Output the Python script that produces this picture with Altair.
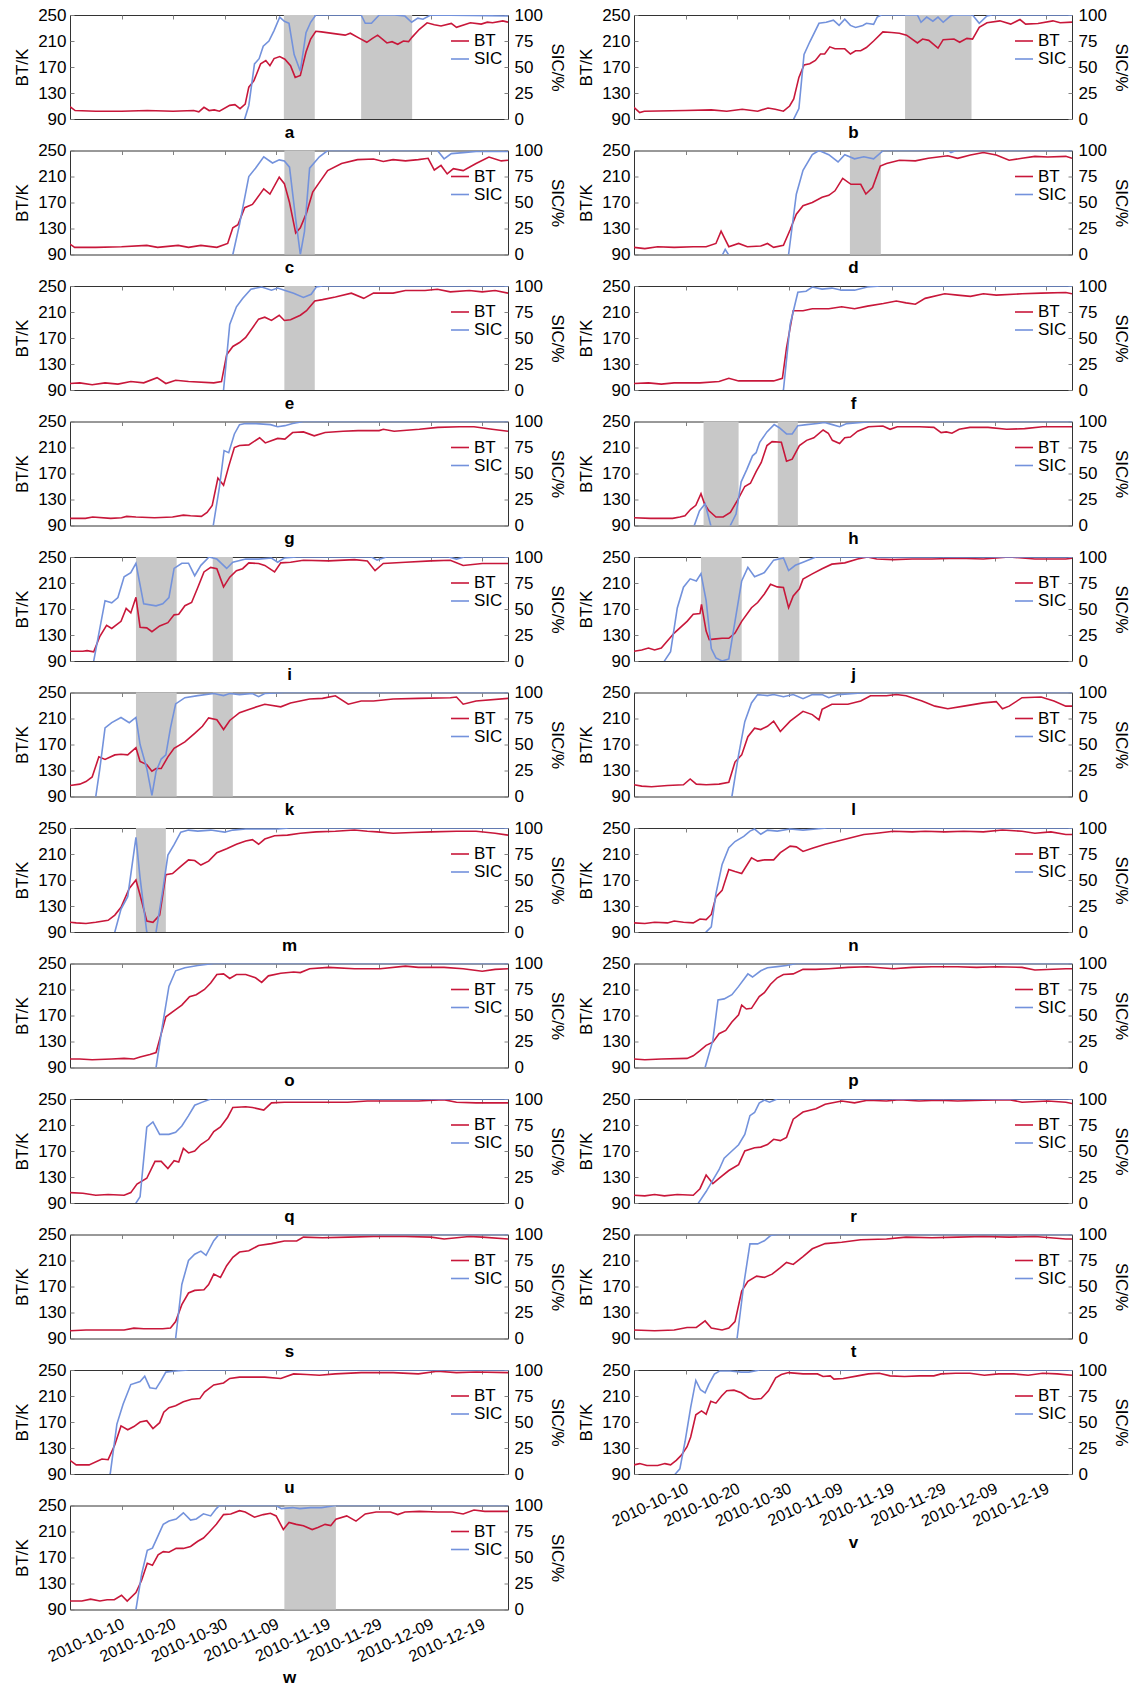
import altair as alt
import pandas as pd

START = pd.Timestamp("2010-09-30")
RED = "#c8173a"
BLUE = "#7392dc"
GREY = "#c8c8c8"
TICK_GREY = "#808080"
FONT = "Liberation Sans"

LEFT_PANELS = ["a", "c", "e", "g", "i", "k", "m", "o", "q", "s", "u", "w"]
RIGHT_PANELS = ["b", "d", "f", "h", "j", "l", "n", "p", "r", "t", "v"]
BOTTOM_PANELS = ["w", "v"]

TICK_DATES = [(10, 10), (10, 20), (10, 30), (11, 9), (11, 19), (11, 29), (12, 9), (12, 19)]
BT_TICKS = [90, 130, 170, 210, 250]
SIC_TICKS = [0, 25, 50, 75, 100]

# day offset from 2010-09-30, value
BT = {
    "a": [[0,109],[1,103],[5,102],[10,102],[15,103],[20,102],[24,103],[25,101],[26,108],[27,103],[28,104],[29,102],[31,111],[32,112],[33,106],[34,113],[34.7,139],[35.7,149],[37,175],[38,180],[38.8,172],[39.6,183],[40.7,186],[41.7,182],[42.8,172],[43.7,154],[44.7,157],[45.8,193],[46.7,213],[47.7,225],[48.8,224],[51.6,221],[53.4,219],[54.4,222],[56.2,214],[57.6,208],[58.7,214],[59.7,219],[61.5,207],[62.5,209],[63.6,205],[64.7,210],[65.7,209],[66.4,216],[67.8,228],[69.3,238],[70.7,235],[72,233],[74,237],[75,231],[77.7,238],[79.8,236],[81,239],[82,238],[84,241],[85,239]],
    "b": [[0,108],[1.1,100],[2,102],[10,103],[15,104],[18,102],[21,105],[24,102],[26,107],[27.4,105],[29,102],[30.2,110],[31,121],[32,154],[33,173],[34.1,175],[35.2,180],[36.2,190],[37,190],[38,201],[39,198],[40.9,198],[42,190],[43,195],[44,195],[45.1,200],[46.5,210],[48.3,224],[50,223],[51.5,222],[52.9,219],[55,207],[56,213],[57.2,211],[59,199],[60,212],[62.1,213],[63.2,208],[64.6,214],[65.7,213],[67,231],[68.5,238],[71,241],[73.1,236],[74.9,243],[76,236],[78.4,237],[81.3,241],[82.7,238],[85,239]],
    "c": [[0,106],[0.9,101],[5,101],[10,102],[14.9,104],[17,101],[21,104],[23,101],[25.4,104],[28.5,101],[30.6,107],[31.6,131],[32.6,136],[33.9,162],[35.4,167],[37.6,191],[38.8,183],[40.6,209],[41.6,199],[42.6,170],[43.8,123],[44.7,131],[45.9,154],[47.1,186],[48.4,201],[50,219],[52.7,230],[55.8,236],[58.9,237],[60.8,233],[62.7,236],[65.1,234],[67.6,236],[69.5,238],[70.7,220],[72,227],[73.2,214],[74.4,222],[76.3,219],[78.8,230],[81.3,240],[83.7,234],[85,235]],
    "d": [[0,101],[2.1,99],[4.6,102],[7.8,101],[11.5,102],[14,102],[15.9,107],[16.9,126],[18.4,102],[20.3,107],[22,102],[24.6,103],[25.9,107],[27.1,101],[29,104],[30.3,128],[31.5,152],[32.8,165],[34.6,170],[36.5,178],[37.8,181],[39,188],[40.5,207],[42.1,198],[44,198],[45,183],[46.3,193],[47.8,226],[49,230],[51.5,235],[54.6,234],[57.1,238],[60.9,242],[62.8,238],[65.3,243],[67.8,247],[70.3,243],[72.8,235],[75.3,238],[77.8,241],[80.3,240],[83.8,241],[85,238]],
    "e": [[0,100],[1.9,101],[4.3,98],[6.8,101],[9.3,99],[11.8,103],[14.3,101],[16.9,109],[18.6,100],[20.5,105],[23,103],[27.9,101],[29.4,103],[30.4,144],[31.6,157],[32.9,163],[34.1,171],[36.6,199],[37.8,202],[39.1,197],[40.6,205],[41.6,197],[42.8,198],[44.7,205],[45.9,212],[47.5,227],[49,229],[51.5,233],[54.6,239],[57,231],[58.9,239],[62.7,239],[65.1,243],[68.9,243],[71.3,245],[73.8,241],[77.5,243],[80,241],[82.5,243],[85,239]],
    "f": [[0,100],[2.8,101],[5.3,99],[7.8,101],[12.8,101],[16.5,103],[18.4,108],[20.3,104],[24,104],[27.1,104],[28.8,108],[29.6,155],[30.9,212],[32.8,212],[34.6,215],[37.8,215],[40.3,218],[42.8,215],[45.3,219],[48.4,223],[50.9,227],[52.8,224],[54.6,222],[56.5,231],[60.3,238],[62.8,236],[65.3,234],[67.8,238],[70.3,236],[75.3,238],[79,239],[83.8,240],[85,238]],
    "g": [[0,101],[3,101],[4.4,103],[7.9,101],[10,102],[11,104],[12.8,103],[16.4,102],[19.9,103],[22,106],[23.4,105],[25.5,104],[26.6,110],[27.6,121],[28.7,163],[29.8,152],[30.8,181],[31.9,210],[32.9,213],[34.7,214],[36.8,225],[37.9,217],[40.3,224],[41.7,223],[43.2,233],[45.3,234],[47.4,228],[49.5,233],[53,235],[55.9,236],[60,236],[60.8,238],[62.9,235],[67.8,238],[71.4,241],[75.6,242],[78.4,242],[81.9,238],[85,235]],
    "h": [[0,102],[3.2,101],[7.5,101],[8.9,103],[9.9,105],[11,115],[12,121],[13,139],[13.7,123],[14.5,113],[15.9,103],[17.3,103],[18.7,110],[20.1,129],[21.5,150],[22.6,155],[23.7,173],[24.7,187],[25.8,213],[26.8,219],[28.6,218],[29.6,189],[30.7,192],[32.1,213],[33.5,221],[34.9,225],[36.7,237],[37.7,232],[38.5,221],[39.9,216],[40.9,225],[42,226],[43.4,235],[45.5,242],[48.3,243],[49.7,238],[51.1,242],[55.4,242],[58.2,241],[59.6,233],[60.6,234],[61.7,232],[63.1,238],[65.2,241],[68.7,241],[72.3,238],[75.8,239],[79.3,242],[85,242]],
    "i": [[0,105],[2.5,105],[3.3,106],[4.6,104],[5.8,128],[7.1,145],[8.1,140],[9.9,151],[10.9,171],[11.8,164],[12.8,188],[13.6,142],[14.9,141],[15.9,135],[17.4,144],[19,149],[20.2,161],[21.1,162],[22.3,175],[23.6,180],[24.8,203],[26,227],[27.3,234],[28.5,232],[29.8,204],[31,219],[32.3,229],[33.5,232],[34.7,241],[36.6,240],[37.8,237],[39.7,227],[40.9,241],[42.8,242],[45.3,245],[50.2,244],[55.2,246],[57.7,244],[59.2,229],[60.8,240],[65.1,242],[70.1,244],[73.8,245],[76.3,237],[80,240],[85,240]],
    "j": [[0,105],[1.5,107],[2.8,110],[4,107],[5.3,110],[7.8,133],[10.3,151],[11.5,162],[12.8,163],[13.1,177],[14,136],[14.6,123],[15.9,124],[17.1,125],[18.4,125],[19.6,133],[20.9,151],[22.8,172],[24,180],[25.3,193],[26.5,208],[27.8,204],[29,203],[30,172],[30.9,190],[32.1,201],[32.8,216],[34.6,224],[36.5,232],[38.4,239],[40.9,241],[43.4,247],[45.3,250],[47.1,247],[50.3,246],[54,247],[57.8,247],[62.8,248],[67.8,247],[72.8,250],[77.8,247],[83.8,247],[85,248]],
    "k": [[0,107],[1.9,109],[3.1,113],[4.3,120],[5.6,151],[6.8,147],[8.7,154],[9.9,155],[11.2,154],[12.8,165],[13.6,144],[14.9,139],[15.9,129],[16.7,133],[17.7,133],[19,151],[20.2,164],[22.3,174],[24.2,187],[25.7,198],[26.9,211],[28.5,208],[29.8,193],[31,207],[32.9,219],[34.7,224],[37.8,232],[40.9,228],[42.8,234],[46.5,240],[49,241],[51.5,245],[54,232],[56.5,237],[58.9,237],[62.7,240],[67.6,241],[73.8,242],[75,243],[76.3,232],[78.8,237],[85,241]],
    "l": [[0,108],[1.5,106],[3.4,105],[6.5,107],[9.6,108],[10.9,117],[12.1,109],[14,108],[16.5,109],[18.4,112],[19.6,143],[20.9,154],[22.1,182],[23.4,195],[24.6,193],[25.9,198],[27.1,206],[28.4,190],[30.3,206],[32.8,221],[34.6,216],[35.9,208],[36.5,224],[38.4,232],[41.5,232],[44,237],[45.9,245],[49,245],[50.9,247],[52.8,245],[55.9,237],[58.4,229],[60.9,225],[64,229],[67.8,234],[70.3,236],[71.5,225],[72.8,229],[75.3,242],[79,243],[81.5,237],[83.8,229],[85,229]],
    "m": [[0,105],[1.2,104],[3.1,103],[5,105],[7.4,108],[8.7,116],[9.9,128],[11.5,157],[12.8,170],[13.6,147],[14.9,107],[16.1,105],[17.4,116],[18.6,178],[19.9,180],[21.5,191],[23,201],[24.2,200],[25.4,193],[26.9,199],[28.5,212],[30.4,218],[32.3,225],[34.1,230],[35.4,232],[36.6,225],[37.8,233],[39.7,238],[42.2,239],[44.7,242],[47.8,244],[51.5,245],[55.2,247],[57.7,245],[59.6,244],[62.7,242],[66.4,243],[70.1,244],[75,245],[78.8,245],[82.5,242],[85,239]],
    "n": [[0,104],[2.1,103],[4,105],[6.5,104],[7.8,107],[9.6,105],[11.5,104],[12.8,110],[14,109],[15,117],[15.9,144],[17.1,154],[18.4,186],[19.6,183],[20.9,180],[22.8,204],[24,199],[25.3,201],[27.1,201],[28.4,212],[30.3,222],[31.5,221],[32.8,214],[34.6,219],[37.1,225],[39.6,230],[42.1,235],[44.6,240],[47.1,242],[50.3,245],[54,244],[56.5,245],[60.3,244],[64,245],[67.8,244],[71.5,247],[75.3,245],[77.8,242],[80.9,244],[83.8,240],[85,240]],
    "o": [[0,103],[1.9,103],[4.3,102],[8.1,103],[10.5,104],[12.4,103],[13.6,106],[15.5,110],[16.7,113],[17.7,142],[18.6,168],[20.5,179],[21.7,186],[23.2,199],[24.5,202],[26.1,210],[27.3,220],[28.5,233],[29.8,234],[31,227],[32.3,233],[34.1,233],[36,228],[37.2,221],[38.5,231],[40.9,235],[43.4,237],[44.7,236],[46.5,242],[50.2,244],[55.2,242],[60.2,242],[65.1,246],[67.6,244],[72.6,244],[76.3,242],[80,238],[82.5,241],[85,242]],
    "p": [[0,103],[2.1,102],[5.3,103],[10.3,104],[11.5,108],[12.8,116],[14,124],[15.3,129],[16.5,142],[17.8,147],[19,160],[20.3,171],[20.9,186],[21.8,180],[22.8,181],[24.3,199],[25.3,205],[26.5,218],[27.8,228],[29,233],[30.9,234],[32.8,241],[35.3,241],[37.8,242],[41.5,244],[45.3,245],[50.3,242],[54,244],[57.8,245],[62.8,245],[66.5,244],[70.3,245],[75.3,244],[77.8,240],[83.8,242],[85,242]],
    "q": [[0,106],[2.5,105],[5,102],[7.4,103],[10.5,102],[11.8,106],[13,119],[14.9,128],[16.5,154],[17.7,154],[19,143],[20.2,155],[21.1,153],[22,174],[23,167],[24.2,170],[25.4,180],[26.9,188],[27.9,200],[29.2,207],[30.6,222],[31.6,237],[34.1,238],[35.4,237],[37.6,233],[39.1,244],[41.6,245],[45.3,245],[50.2,245],[53.9,245],[57.7,247],[62.7,247],[67.6,247],[72.5,249],[75,245],[78.8,244],[85,244]],
    "r": [[0,102],[2.1,101],[4,103],[5.9,101],[8.4,103],[11.5,102],[12.8,112],[14,133],[15.3,120],[16.5,128],[18.4,140],[20.3,149],[21.5,170],[23.4,175],[24.6,176],[25.9,180],[27.1,188],[28.4,186],[29.6,191],[30.9,219],[32.8,230],[35.3,235],[37.1,242],[40.3,247],[42.8,244],[45.3,248],[49,247],[51.5,249],[55.3,247],[59,248],[62.8,247],[67.8,248],[72.8,249],[75.3,245],[80.3,247],[83.8,245],[85,243]],
    "s": [[0,102],[3.1,103],[8.1,103],[10.5,103],[12.4,106],[14.3,105],[18,105],[19.5,106],[20.5,116],[21.7,142],[23,160],[24.2,164],[26,165],[26.9,173],[27.9,189],[29.2,184],[30.4,202],[31.6,215],[32.9,223],[34.7,225],[36.6,233],[39.1,236],[41.6,240],[44,240],[45.3,246],[49,245],[54,246],[58.9,247],[65.1,247],[70.1,246],[72.6,243],[77.5,247],[80,246],[85,243]],
    "t": [[0,103],[4,102],[7.8,103],[10.3,107],[12.1,107],[13.8,117],[15,106],[17.1,103],[18.4,106],[19.6,116],[20.9,163],[22.1,178],[23.8,186],[25.3,184],[26.8,189],[28.4,199],[29.6,207],[30.9,204],[32.8,216],[34.6,228],[37.1,236],[40.3,238],[44,242],[49,243],[52.8,246],[57.8,245],[62.8,246],[67.8,247],[72.8,246],[77.8,247],[83.8,243],[85,243]],
    "u": [[0,111],[1.2,104],[3.7,104],[6.2,113],[7.4,112],[8.7,135],[9.9,164],[11.2,158],[12.4,163],[13.6,170],[14.9,172],[16.1,160],[17.4,169],[18.2,185],[19.2,192],[20.5,195],[22,201],[23.6,205],[25.2,206],[26.1,216],[27.9,227],[29.8,230],[31,237],[32.9,239],[35.4,239],[37.8,239],[40.9,237],[43.4,244],[45.9,243],[48.4,242],[51.5,244],[56.5,246],[62.7,246],[67.6,244],[71.3,248],[75,246],[78.8,247],[85,246]],
    "v": [[0,104],[1.1,106],[2.5,103],[4.6,103],[6,106],[7.1,104],[8.2,111],[9.2,119],[10.3,132],[11,147],[12,181],[13.1,187],[14,182],[14.9,202],[15.9,199],[17,210],[18,218],[19.4,219],[20.8,215],[22.3,207],[23.3,205],[24.7,206],[26.1,218],[27.5,238],[28.6,243],[30,246],[32.8,244],[35.6,244],[36.7,240],[38.1,241],[38.8,236],[40.6,237],[43.4,241],[45.5,244],[47.6,245],[49.7,241],[52.5,240],[55.4,241],[58.2,241],[59.6,244],[62.4,245],[65.2,245],[68,242],[70.8,244],[73.7,244],[76.5,242],[79.3,245],[82.1,244],[85,242]],
    "w": [[0,103],[2.3,103],[4,106],[5.8,103],[7.2,105],[8.6,105],[10,112],[11.1,103],[12.8,116],[13.9,135],[15,161],[16,158],[17.1,174],[18.1,179],[19.2,178],[20.6,184],[22,184],[23.4,187],[24.8,195],[25.9,200],[26.9,208],[28.4,221],[29.8,236],[31.2,237],[32.9,242],[34,240],[35.8,232],[37.5,236],[38.9,238],[40,234],[41.4,213],[42.5,224],[43.9,221],[45.3,219],[47,213],[48.1,216],[49.5,221],[50.6,219],[51.6,229],[53.7,234],[55.5,226],[57.3,237],[59.4,240],[62.2,240],[63.6,236],[65,240],[67.8,241],[71.4,240],[74.2,240],[76.3,237],[78.4,243],[80.5,241],[82.7,241],[85,241]],
}

SIC = {
    "a": [[33,-20],[33.9,0],[34.7,13],[35.8,53],[36.7,58],[37.5,70],[38.6,75],[39.6,85],[40.7,98],[41.6,94],[42.5,92],[43.5,62],[44.7,46],[45.8,83],[46.7,93],[47.7,100],[56.5,100],[57.3,92],[58.5,92],[60,100],[63,100],[65,99],[66.3,93],[67.5,97],[68.5,96],[70,100],[85,99]],
    "b": [[30.5,-15],[31,0],[32,10],[33,62],[34.1,74],[35.9,92],[37.3,93],[38.7,95],[39.8,90],[40.9,96],[42,90],[43,88],[44.4,90],[45.1,92],[46.5,91],[47.2,98],[48,100],[55,100],[55.7,93],[56.8,98],[58,94],[59,98],[60,93],[61.4,99],[62,100],[65.7,100],[67,92],[68.5,99],[69.5,100],[85,100]],
    "c": [[31,-20],[31.6,0],[32.9,29],[34.7,75],[36,83],[37.6,94],[39.3,88],[40.6,91],[41.6,90],[42.6,84],[43.8,34],[44.7,0],[45.5,22],[46.5,83],[48.4,94],[50,100],[71.3,100],[72.6,92],[74,97],[76.3,98],[78.8,99],[85,99]],
    "d": [[16.7,-5],[17.7,5],[18.7,-3],[29.5,-15],[30,0],[31.5,58],[32.8,81],[34.6,96],[35.9,100],[37.8,96],[39.6,89],[40.9,96],[42.8,92],[44.6,94],[46.5,92],[48.4,100],[61,100],[61.5,98],[62.5,100],[85,100]],
    "e": [[29,-15],[29.8,0],[31,63],[32.3,80],[33.5,88],[35.1,97],[37.2,99],[39.1,96],[40.3,98],[41.6,96],[43.4,93],[45.3,89],[46.8,92],[47.8,99],[49,100],[85,100]],
    "f": [[28.5,-15],[29,0],[30.3,63],[31.8,94],[33.4,95],[34.6,99],[36.5,97],[38.4,98],[40.3,96],[42.8,96],[45.3,99],[47.8,100],[85,100]],
    "g": [[27.3,-20],[27.8,0],[29,37],[29.9,72],[30.8,70],[31.9,88],[32.9,97],[34,98],[36.1,98],[38.9,97],[40.3,95],[41.7,96],[43.2,98],[45.3,100],[85,100]],
    "h": [[11.2,-15],[11.7,0],[12.7,14],[13.8,21],[14.9,0],[15.6,-20],[17.5,-25],[18.7,0],[19.8,11],[20.8,42],[21.9,54],[23,67],[23.7,70],[24.4,80],[25.8,90],[27.2,97],[28.2,94],[29.6,88],[30.7,88],[31.8,96],[33.5,97],[35.6,98],[37,99],[38.5,97],[39.9,95],[41.3,98],[44.1,99],[46.2,100],[85,100]],
    "i": [[4,-15],[4.6,0],[6.8,58],[8.1,56],[9.3,61],[10.5,81],[11.8,85],[12.8,94],[14.3,55],[16.7,53],[18,55],[19.2,61],[20.2,89],[21.7,94],[23,94],[24.2,82],[25.4,92],[27,100],[28.5,98],[30.4,89],[31.6,95],[34.1,98],[36.6,98],[39.1,99],[40.3,95],[41.6,99],[44,100],[58.5,100],[59.6,97],[61.4,100],[73.5,100],[75,98],[76.5,100],[85,100]],
    "j": [[5.3,-15],[5.9,0],[7.1,9],[8.4,51],[9.6,71],[10.9,79],[12.1,77],[13,84],[14,58],[15,12],[15.9,3],[17.1,0],[18.4,2],[19.6,38],[20.9,77],[22.1,90],[23.4,81],[25.3,85],[27.1,97],[29,99],[30,87],[31.3,92],[32.8,95],[35.3,100],[85,100]],
    "k": [[4.4,-15],[5,0],[5.8,27],[6.8,66],[8.1,71],[9.9,76],[11.5,71],[12.8,76],[13.6,50],[14.9,27],[15.9,1],[16.7,24],[17.7,36],[18.6,40],[19.5,66],[20.5,89],[22.3,95],[24.8,97],[27.9,99],[29.8,97],[31,99],[32.9,98],[35.4,99],[36.6,96],[37.8,99],[41.6,100],[85,100]],
    "l": [[18.5,-15],[19,0],[20.3,40],[21.5,72],[22.8,90],[24,98],[25.9,97],[27.1,98],[29,96],[30.9,98],[32.8,94],[34.6,98],[36.5,98],[37.8,95],[39.6,98],[42.8,99],[45.3,100],[85,100]],
    "m": [[8,-20],[8.7,0],[9.9,22],[11.2,34],[12.8,91],[13.6,52],[14.9,0],[15.8,-15],[16.7,0],[18,40],[19,74],[20.2,84],[21.5,96],[23,98],[24.8,97],[27.3,98],[30,96],[31.6,98],[34.1,99],[37.8,99],[40.3,99],[42.5,100],[85,100]],
    "n": [[13.4,-15],[14,0],[15,5],[15.9,37],[17.1,65],[18.4,81],[19.6,87],[21.3,92],[22.5,97],[23.4,99],[24.6,94],[25.9,98],[27.8,97],[30.3,99],[32.8,98],[35.3,99],[37.5,100],[85,100]],
    "o": [[16.2,-15],[16.7,0],[17.9,39],[19.2,78],[20.5,93],[22.3,96],[24.8,98],[27.9,100],[85,100]],
    "p": [[13.2,-15],[13.8,0],[15.3,26],[16.3,65],[17.5,66],[19,70],[20.3,78],[22.1,90],[23,87],[24.6,93],[25.9,96],[27.8,97],[29.6,98],[31.5,100],[85,100]],
    "q": [[12.2,-15],[12.8,0],[13.6,6],[14.9,73],[16.1,78],[17.4,66],[19.2,66],[20.5,68],[21.7,74],[23,84],[24.2,94],[25.7,97],[27.3,100],[85,100]],
    "r": [[12,-15],[12.5,0],[14,11],[15.3,22],[16.5,32],[17.5,43],[19,50],[20.3,56],[21.5,66],[22.5,84],[23.4,87],[24.3,96],[25.3,99],[26.3,97],[27.8,100],[85,100]],
    "s": [[20,-15],[20.5,0],[21.7,52],[23,75],[24.2,81],[25.4,84],[26.4,80],[27.9,94],[28.9,100],[85,100]],
    "t": [[19.5,-15],[20,0],[21.3,52],[22.5,91],[24,91],[25.3,94],[26.5,99],[27.8,100],[85,100]],
    "u": [[7.2,-15],[7.8,0],[9.1,48],[10.3,67],[11.8,86],[13.6,89],[14.5,94],[15.5,83],[16.7,82],[17.7,90],[18.6,98],[20.5,99],[23,100],[85,100]],
    "v": [[7.4,-15],[8,0],[8.9,5],[9.9,31],[11,64],[12,90],[12.9,81],[13.8,78],[14.5,86],[15.6,96],[16.6,99],[18.7,99],[20.8,98],[22.3,98],[24.4,100],[85,100]],
    "w": [[12.2,-15],[12.8,0],[13.9,34],[15,57],[16,59],[17.1,71],[18.1,82],[19.2,85],[20.6,87],[22,93],[23.4,86],[24.5,87],[25.9,92],[27.3,90],[28.4,97],[29,100],[40,100],[41,97],[43.2,98],[44.6,97],[46.7,98],[48.8,98],[51.6,100],[85,100]],
}

SHADES = {
    "a": [[41.5, 47.5], [56.5, 66.4]],
    "b": [[52.6, 65.5]],
    "c": [[41.6, 47.5]],
    "d": [[41.9, 47.9]],
    "e": [[41.6, 47.5]],
    "h": [[13.5, 20.3], [27.9, 31.8]],
    "i": [[12.8, 20.7], [27.7, 31.6]],
    "j": [[13.0, 20.9], [28.0, 32.1]],
    "k": [[12.8, 20.7], [27.7, 31.6]],
    "m": [[12.8, 18.6]],
    "w": [[41.6, 51.6]],
}

W = 438
H = 104
INNER_TICK = [4, 2000]

X_DOMAIN = [alt.DateTime(year=2010, month=9, date=30), alt.DateTime(year=2010, month=12, date=24)]
X_TICKS = [alt.DateTime(year=2010, month=m, date=d) for m, d in TICK_DATES]


def day_to_date(d):
    return START + pd.Timedelta(hours=d * 24)


def x_enc(field, key, bottom):
    return alt.X(
        field,
        type="temporal",
        scale=alt.Scale(domain=X_DOMAIN),
        axis=alt.Axis(
            title=key, titleFontWeight="bold", titleFontSize=17, titleFont=FONT,
            titleColor="black", titlePadding=5,
            labels=bottom, ticks=False, domain=False,
            grid=True, gridDash=INNER_TICK, gridColor=TICK_GREY, gridWidth=1,
            values=X_TICKS, format="%Y-%m-%d", labelAngle=-25,
            labelAlign="right", labelBaseline="top", labelFontSize=16,
            labelFont=FONT, labelColor="black", labelPadding=6, labelOffset=-2,
            labelOverlap=False, labelFlush=False,
        ),
    )


def y_axis(title, orient, values, label_pad, title_pad):
    return alt.Axis(
        title=title, orient=orient, values=values,
        grid=True, gridDash=INNER_TICK, gridColor=TICK_GREY, gridWidth=1,
        ticks=False, domain=False, labelFontSize=17, labelFont=FONT,
        labelColor="black", titleFontSize=17, titleFont=FONT,
        titleFontWeight="normal", titleColor="black",
        labelPadding=label_pad, titlePadding=title_pad,
    )


def make_panel(key):
    bottom = key in BOTTOM_PANELS
    rows = []
    for d, v in BT[key]:
        rows.append({"date": day_to_date(d), "value": v, "series": "BT"})
    for d, v in SIC[key]:
        rows.append({"date": day_to_date(d), "value": v, "series": "SIC"})
    df = pd.DataFrame(rows)

    color = alt.Color(
        "series:N",
        scale=alt.Scale(domain=["BT", "SIC"], range=[RED, BLUE]),
        legend=alt.Legend(
            title=None, orient="none", legendX=380, legendY=16,
            symbolType="stroke", symbolSize=324, symbolStrokeWidth=1.6,
            labelFontSize=17, labelFont=FONT, labelColor="black",
            rowPadding=0, padding=0, labelOffset=4,
        ),
    )

    bt = alt.Chart(df).transform_filter("datum.series == 'BT'").mark_line(
        strokeWidth=1.6, clip=True
    ).encode(
        x=x_enc("date", key, bottom),
        y=alt.Y("value:Q", scale=alt.Scale(domain=[90, 250], nice=False, zero=False),
                axis=y_axis("BT/K", "left", BT_TICKS, 4, 6)),
        color=color,
    )
    sic = alt.Chart(df).transform_filter("datum.series == 'SIC'").mark_line(
        strokeWidth=1.6, clip=True
    ).encode(
        x=x_enc("date", key, bottom),
        y=alt.Y("value:Q", scale=alt.Scale(domain=[0, 100], nice=False, zero=False),
                axis=y_axis("SIC/%", "right", SIC_TICKS, 6, 5)),
        color=color,
    )
    layers = []
    if key in SHADES:
        sdf = pd.DataFrame([{"start": day_to_date(a), "end": day_to_date(b)} for a, b in SHADES[key]])
        shade = alt.Chart(sdf).mark_rect(color=GREY, opacity=1).encode(
            x=x_enc("start", key, bottom),
            x2="end:T",
        )
        layers.append(shade)
    layers += [bt, sic]
    return alt.layer(*layers).resolve_scale(y="independent").properties(width=W, height=H)


left = alt.vconcat(*[make_panel(k) for k in LEFT_PANELS], spacing=135.5 - H, bounds="flush") \
    .resolve_scale(color="independent").resolve_legend(color="independent")
right = alt.vconcat(*[make_panel(k) for k in RIGHT_PANELS], spacing=135.5 - H, bounds="flush") \
    .resolve_scale(color="independent").resolve_legend(color="independent")

chart = alt.hconcat(left, right, spacing=11) \
    .resolve_scale(color="independent").resolve_legend(color="independent") \
    .properties(padding={"left": 13, "top": 5, "right": 2, "bottom": 2}) \
    .configure(font=FONT) \
    .configure_view(stroke="#333333", strokeWidth=1)

chart.save("out.html", embed_options={"renderer": "svg", "actions": False})
